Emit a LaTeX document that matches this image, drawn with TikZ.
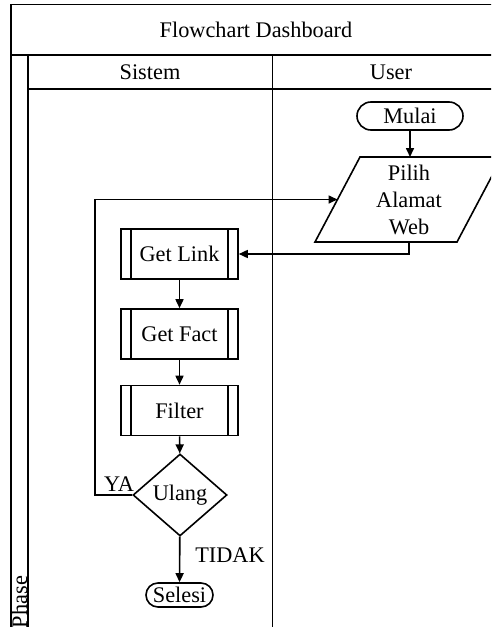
\documentclass[tikz,border=0pt]{standalone}
\usepackage{fontspec}
\setmainfont{Liberation Serif}
\usetikzlibrary{shapes.geometric,arrows.meta}
\newcommand\dfsz{\fontsize{22.3}{27}\selectfont}
\begin{document}
\begin{tikzpicture}[x=1pt,y=-1pt,
  lane/.style={line width=1.9pt},
  shp/.style={draw, line width=1.6pt, inner sep=0pt, font=\dfsz},
  txt/.style={inner sep=0pt, font=\dfsz},
  term/.style={shp, rectangle},
  proc/.style={shp, rectangle, minimum width=117pt, minimum height=50pt,
    path picture={\draw[line width=1.6pt]
      ([xshift=10pt]path picture bounding box.north west) -- ([xshift=10pt]path picture bounding box.south west)
      ([xshift=-10pt]path picture bounding box.north east) -- ([xshift=-10pt]path picture bounding box.south east);}},
  dec/.style={shp, diamond, minimum width=94pt, minimum height=82pt},
  arr/.style={line width=1.6pt, -{Triangle[length=9pt,width=8pt]}}]
\useasboundingbox (0,0) rectangle (491,627);
\clip (0,0) rectangle (491,627);
\fill[white] (0,0) rectangle (491,627);
% swimlane frame
\draw[lane] (11,640) -- (11,4.5) -- (520,4.5);
\draw[lane] (11,55) -- (520,55);
\draw[lane] (28,55) -- (28,640);
\draw[lane] (28,89) -- (520,89);
\draw[lane] (272.5,55) -- (272.5,640);
\node[txt] (title) at (256,30) {Flowchart Dashboard};
\node[txt] (sistem) at (150,72) {Sistem};
\node[txt] (user) at (391,72) {User};
\node[txt, rotate=90] (phase) at (19.5,602) {Phase};
% user lane
\node[term, minimum width=106pt, minimum height=28pt, rounded corners=14pt] (mulai) at (410,116) {Mulai};
\draw[line width=1.6pt] (360,157) -- (502,157) -- (457,242) -- (315,242) -- cycle;
\node[txt, align=center] (pilih) at (409,199.5) {Pilih\\Alamat\\Web};
\coordinate (ptop) at (410,157);
\coordinate (pbot) at (409,242);
\coordinate (pin) at (337.5,199.5);
% system lane
\node[proc] (link) at (179.5,254) {Get Link};
\node[proc] (fact) at (179.5,334) {Get Fact};
\node[proc] (filter) at (179.5,410.5) {Filter};
\node[dec] (ulang) at (180,495) {Ulang};
\node[term, minimum width=67pt, minimum height=24pt, rounded corners=12pt] (selesi) at (179.5,595) {Selesi};
\coordinate (lp) at (95,199.5);
\node[txt] (ya) at (119,484) {YA};
\node[txt] (tidak) at (230,555) {TIDAK};
% connectors
\draw[arr] (mulai) -- (ptop);
\draw[arr] (pbot) |- (link.east);
\draw[arr] (link) -- (fact);
\draw[arr] (fact) -- (filter);
\draw[arr] (filter) -- (ulang);
\draw[arr] (ulang) -- (selesi);
\draw[arr] (ulang.west) -| (lp) -- (pin);
\end{tikzpicture}
\end{document}
